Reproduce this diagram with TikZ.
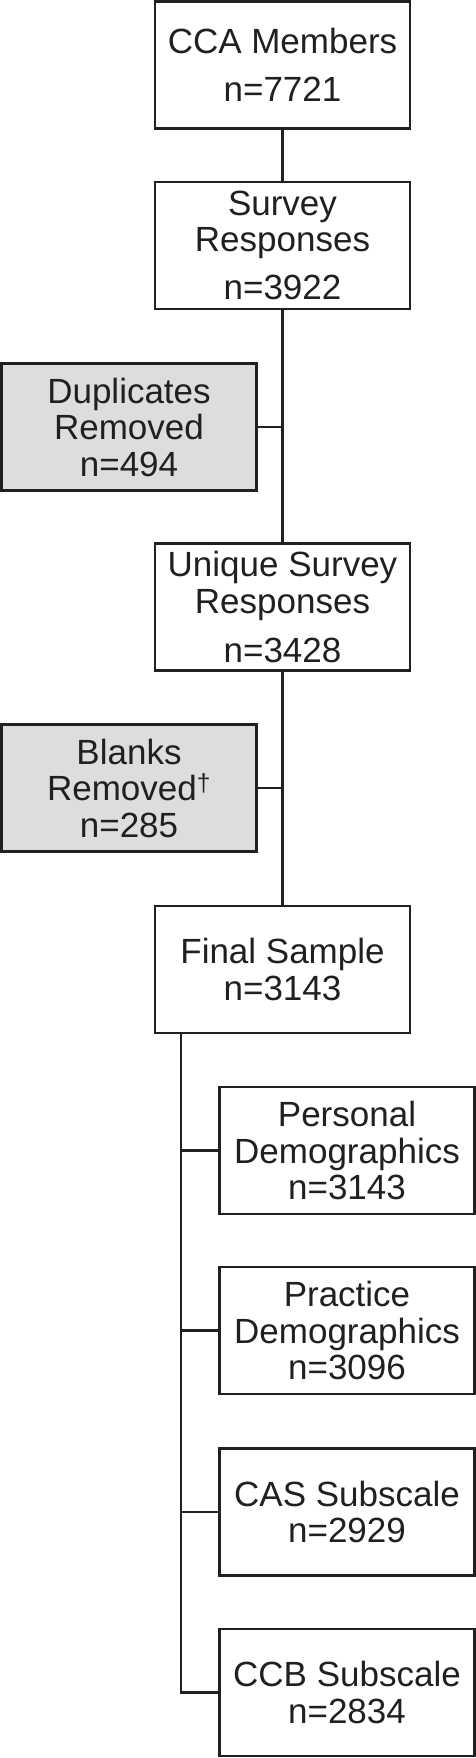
\documentclass[tikz,border=0pt]{standalone}
\usepackage{fontspec}
\setmainfont{Liberation Sans}
\definecolor{ink}{HTML}{231F20}
\definecolor{greybox}{HTML}{DCDDDF}
\begin{document}
\begin{tikzpicture}[x=1pt,y=-1pt,
  box/.style={draw=ink, line width=2.9pt, fill=white, minimum width=255pt, minimum height=127pt,
    inner sep=0pt, align=center, text=ink, font=\fontsize{35}{36.5}\selectfont},
  greyb/.style={box, fill=greybox},
  link/.style={draw=ink, line width=2.9pt}]
\useasboundingbox (0,0) rectangle (476,1758);
\node[box] (cca) at (282.5,65) {CCA Members\\[11.5pt]n=7721};
\node[box] (survey) at (282.5,245.5) {Survey\\Responses\\[11.5pt]n=3922};
\node[greyb] (dup) at (129,427) {Duplicates\\Removed\\n=494};
\node[box] (unique) at (282.5,607) {Unique Survey\\Responses\\[13pt]n=3428};
\node[greyb] (blanks) at (129,788) {Blanks\\Removed\textsuperscript{†}\\n=285};
\node[box] (final) at (282.5,969.5) {Final Sample\\n=3143};
\node[box] (personal) at (347,1150.5) {Personal\\Demographics\\n=3143};
\node[box] (practice) at (347,1330.5) {Practice\\Demographics\\n=3096};
\node[box] (cas) at (347,1512) {CAS Subscale\\n=2929};
\node[box] (ccb) at (347,1692.5) {CCB Subscale\\n=2834};
\coordinate (trunk) at (181,1033);
\draw[link] (cca.south) -- (survey.north);
\draw[link] (survey.south) -- (unique.north);
\draw[link] (unique.south) -- (final.north);
\draw[link] (dup.east) -- (dup.east -| survey.south);
\draw[link] (blanks.east) -- (blanks.east -| unique.south);
\draw[link] (final.south -| trunk) |- (ccb.west);
\draw[link] (personal.west) -- (personal.west -| trunk);
\draw[link] (practice.west) -- (practice.west -| trunk);
\draw[link] (cas.west) -- (cas.west -| trunk);
\end{tikzpicture}
\end{document}
